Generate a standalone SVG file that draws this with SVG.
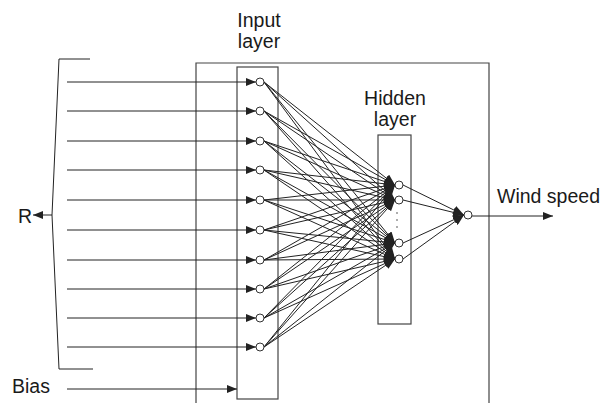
<svg xmlns="http://www.w3.org/2000/svg" width="603" height="403" viewBox="0 0 603 403">
<style>
.box{fill:none;stroke:#444;stroke-width:1.2}
.ln{fill:none;stroke:#222;stroke-width:1}
.nd{fill:#fff;stroke:#333;stroke-width:1}
.t{font-family:"Liberation Sans",Arial,sans-serif;font-size:19.5px;fill:#1a1a1a}
</style>
<defs>
<marker id="ah" markerUnits="userSpaceOnUse" markerWidth="10" markerHeight="8" refX="10" refY="4" orient="auto">
<path d="M0,0 L10,4 L0,8 z" fill="#222"/>
</marker>
<marker id="ah2" markerUnits="userSpaceOnUse" markerWidth="11" markerHeight="9" refX="11" refY="4.5" orient="auto">
<path d="M0,0 L11,4.5 L0,9 z" fill="#222"/>
</marker>
</defs>
<rect width="603" height="403" fill="#fff"/>
<g id="frame">
<path class="box" d="M196,403 V63 H489 V403"/>
</g>
<g id="input-layer">
<rect class="box" x="237" y="67" width="41" height="332"/>
<text class="t" x="259" y="27" text-anchor="middle">Input</text>
<text class="t" x="259" y="48" text-anchor="middle">layer</text>
</g>
<g id="hidden-layer">
<rect class="box" x="378" y="135" width="33" height="189"/>
<text class="t" x="395" y="105" text-anchor="middle">Hidden</text>
<text class="t" x="395" y="126" text-anchor="middle">layer</text>
<circle cx="397" cy="213" r="0.8" fill="#444"/>
<circle cx="397" cy="220" r="0.8" fill="#444"/>
<circle cx="397" cy="227" r="0.8" fill="#444"/>
</g>
<g id="bracket">
<polyline class="ln" points="90,59 59,59 52,215 59,369 93,369" stroke="#555"/>
<text class="t" x="18" y="223">R</text>
</g>
<g id="bias">
<text class="t" x="12" y="393">Bias</text>
</g>
<g id="output">
<text class="t" x="497" y="203">Wind speed</text>
</g>
<g id="connectors">
<line class="ln" x1="52" y1="215" x2="33" y2="215" marker-end="url(#ah)"/>
<line class="ln" x1="67" y1="389" x2="237" y2="389" marker-end="url(#ah)"/>
<line class="ln" x1="67" y1="82" x2="256" y2="82" marker-end="url(#ah)"/>
<line class="ln" x1="67" y1="111" x2="256" y2="111" marker-end="url(#ah)"/>
<line class="ln" x1="67" y1="141" x2="256" y2="141" marker-end="url(#ah)"/>
<line class="ln" x1="67" y1="170" x2="256" y2="170" marker-end="url(#ah)"/>
<line class="ln" x1="67" y1="200" x2="256" y2="200" marker-end="url(#ah)"/>
<line class="ln" x1="67" y1="230" x2="256" y2="230" marker-end="url(#ah)"/>
<line class="ln" x1="67" y1="260" x2="256" y2="260" marker-end="url(#ah)"/>
<line class="ln" x1="67" y1="289" x2="256" y2="289" marker-end="url(#ah)"/>
<line class="ln" x1="67" y1="318" x2="256" y2="318" marker-end="url(#ah)"/>
<line class="ln" x1="67" y1="347" x2="256" y2="347" marker-end="url(#ah)"/>
<g marker-end="url(#ah2)">
<line class="ln" x1="264" y1="82" x2="395" y2="185"/><line class="ln" x1="264" y1="82" x2="395" y2="200"/><line class="ln" x1="264" y1="82" x2="395" y2="243"/><line class="ln" x1="264" y1="82" x2="395" y2="259"/>
<line class="ln" x1="264" y1="111" x2="395" y2="185"/><line class="ln" x1="264" y1="111" x2="395" y2="200"/><line class="ln" x1="264" y1="111" x2="395" y2="243"/><line class="ln" x1="264" y1="111" x2="395" y2="259"/>
<line class="ln" x1="264" y1="141" x2="395" y2="185"/><line class="ln" x1="264" y1="141" x2="395" y2="200"/><line class="ln" x1="264" y1="141" x2="395" y2="243"/><line class="ln" x1="264" y1="141" x2="395" y2="259"/>
<line class="ln" x1="264" y1="170" x2="395" y2="185"/><line class="ln" x1="264" y1="170" x2="395" y2="200"/><line class="ln" x1="264" y1="170" x2="395" y2="243"/><line class="ln" x1="264" y1="170" x2="395" y2="259"/>
<line class="ln" x1="264" y1="200" x2="395" y2="185"/><line class="ln" x1="264" y1="200" x2="395" y2="200"/><line class="ln" x1="264" y1="200" x2="395" y2="243"/><line class="ln" x1="264" y1="200" x2="395" y2="259"/>
<line class="ln" x1="264" y1="230" x2="395" y2="185"/><line class="ln" x1="264" y1="230" x2="395" y2="200"/><line class="ln" x1="264" y1="230" x2="395" y2="243"/><line class="ln" x1="264" y1="230" x2="395" y2="259"/>
<line class="ln" x1="264" y1="260" x2="395" y2="185"/><line class="ln" x1="264" y1="260" x2="395" y2="200"/><line class="ln" x1="264" y1="260" x2="395" y2="243"/><line class="ln" x1="264" y1="260" x2="395" y2="259"/>
<line class="ln" x1="264" y1="289" x2="395" y2="185"/><line class="ln" x1="264" y1="289" x2="395" y2="200"/><line class="ln" x1="264" y1="289" x2="395" y2="243"/><line class="ln" x1="264" y1="289" x2="395" y2="259"/>
<line class="ln" x1="264" y1="318" x2="395" y2="185"/><line class="ln" x1="264" y1="318" x2="395" y2="200"/><line class="ln" x1="264" y1="318" x2="395" y2="243"/><line class="ln" x1="264" y1="318" x2="395" y2="259"/>
<line class="ln" x1="264" y1="347" x2="395" y2="185"/><line class="ln" x1="264" y1="347" x2="395" y2="200"/><line class="ln" x1="264" y1="347" x2="395" y2="243"/><line class="ln" x1="264" y1="347" x2="395" y2="259"/>
<line class="ln" x1="403" y1="185" x2="464" y2="215"/><line class="ln" x1="403" y1="200" x2="464" y2="215"/><line class="ln" x1="403" y1="243" x2="464" y2="215"/><line class="ln" x1="403" y1="259" x2="464" y2="215"/>
</g>
<line class="ln" x1="472" y1="216" x2="553" y2="216" marker-end="url(#ah)"/>
</g>
<g id="input-nodes">
<circle class="nd" cx="260" cy="82" r="4"/><circle class="nd" cx="260" cy="111" r="4"/><circle class="nd" cx="260" cy="141" r="4"/><circle class="nd" cx="260" cy="170" r="4"/><circle class="nd" cx="260" cy="200" r="4"/><circle class="nd" cx="260" cy="230" r="4"/><circle class="nd" cx="260" cy="260" r="4"/><circle class="nd" cx="260" cy="289" r="4"/><circle class="nd" cx="260" cy="318" r="4"/><circle class="nd" cx="260" cy="347" r="4"/>
</g>
<g id="hidden-nodes">
<circle class="nd" cx="399" cy="185" r="4"/><circle class="nd" cx="399" cy="200" r="4"/><circle class="nd" cx="399" cy="243" r="4"/><circle class="nd" cx="399" cy="259" r="4"/>
</g>
<g id="output-node">
<circle class="nd" cx="468" cy="215" r="4"/>
</g>
</svg>
